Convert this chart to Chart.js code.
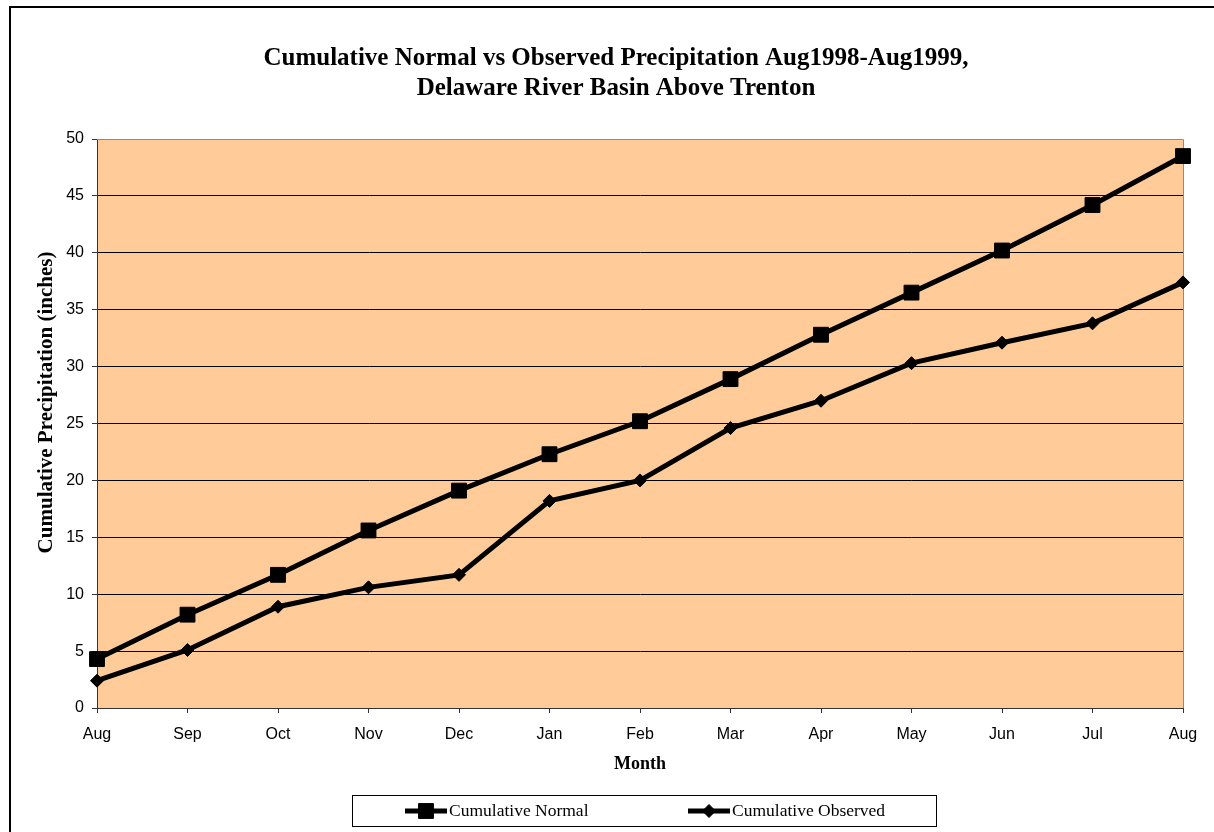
<!DOCTYPE html>
<html>
<head>
<meta charset="utf-8">
<script src="https://cdn.jsdelivr.net/npm/chart.js@4"></script>
<style>
  html, body { margin: 0; padding: 0; background: #fff; }
  #wrap { width: 1214px; height: 832px; }
</style>
</head>
<body>
<div id="wrap"><canvas id="myChart" width="1214" height="832"></canvas></div>
<script>
const months = ["Aug", "Sep", "Oct", "Nov", "Dec", "Jan", "Feb", "Mar", "Apr", "May", "Jun", "Jul", "Aug"];
const normal = [4.3, 8.2, 11.7, 15.6, 19.1, 22.3, 25.2, 28.9, 32.8, 36.5, 40.2, 44.2, 48.5];
const observed = [2.4, 5.1, 8.9, 10.6, 11.7, 18.2, 20.0, 24.6, 27.0, 30.3, 32.1, 33.8, 37.4];
const titleLines = ["Cumulative Normal vs Observed Precipitation Aug1998-Aug1999,", "Delaware River Basin Above Trenton"];

// plot background, grey top/right border and the outer frame
const plotArea = {
  id: "plotArea",
  beforeDraw(chart) {
    const { ctx, chartArea: a } = chart;
    ctx.save();
    ctx.fillStyle = "#fff";
    ctx.fillRect(0, 0, chart.width, chart.height);
    ctx.lineWidth = 2;
    ctx.strokeStyle = "#000";
    ctx.strokeRect(10, 7, 1400, 1000);
    ctx.fillStyle = "#FFCC99";
    ctx.fillRect(a.left, a.top, a.right - a.left, a.bottom - a.top);
    ctx.restore();
  },
  beforeDatasetsDraw(chart) {
    const { ctx, chartArea: a } = chart;
    ctx.save();
    ctx.strokeStyle = "#8c8c8c";
    ctx.lineWidth = 1;
    ctx.beginPath();
    ctx.moveTo(a.left, a.top + 0.5);
    ctx.lineTo(a.right + 0.5, a.top + 0.5);
    ctx.lineTo(a.right + 0.5, a.bottom);
    ctx.stroke();
    ctx.restore();
  }
};

// Excel style boxed legend
const boxLegend = {
  id: "boxLegend",
  afterDraw(chart, args, opts) {
    const { ctx } = chart;
    ctx.save();
    ctx.strokeStyle = "#000";
    ctx.lineWidth = 1;
    ctx.strokeRect(opts.x + 0.5, opts.y + 0.5, opts.w, opts.h);
    const cy = opts.y + opts.h / 2 + 0.5;
    chart.data.datasets.forEach((ds, i) => {
      const x0 = opts.x + opts.first + i * opts.step;
      ctx.strokeStyle = "#000";
      ctx.lineWidth = 5;
      ctx.beginPath();
      ctx.moveTo(x0, cy);
      ctx.lineTo(x0 + 42, cy);
      ctx.stroke();
      ctx.fillStyle = "#000";
      ctx.strokeStyle = "#000";
      ctx.lineWidth = 1;
      Chart.helpers.drawPoint(ctx, { pointStyle: ds.pointStyle, radius: ds.pointRadius, rotation: 0, borderWidth: 1 }, x0 + 21, cy);
      ctx.fillStyle = "#000";
      ctx.font = "17.5px 'Liberation Serif'";
      ctx.textBaseline = "middle";
      ctx.textAlign = "left";
      ctx.fillText(ds.label, x0 + 44, cy);
    });
    ctx.restore();
  }
};

const data = {
  labels: months,
  datasets: [
    {
      label: "Cumulative Normal",
      data: normal,
      borderColor: "#000",
      backgroundColor: "#000",
      borderWidth: 5,
      pointStyle: "rect",
      pointRadius: 10.5,
      pointBorderWidth: 1,
      tension: 0,
    },
    {
      label: "Cumulative Observed",
      data: observed,
      borderColor: "#000",
      backgroundColor: "#000",
      borderWidth: 5,
      pointStyle: "rectRot",
      pointRadius: 6.5,
      pointBorderWidth: 1,
      tension: 0,
    },
  ],
};

const options = {
  responsive: false,
  animation: false,
  // left padding is wider so the title centres where Excel put it
  layout: { padding: { left: 49, right: 31, top: 0, bottom: 0 } },
  plugins: {
    legend: { display: false },
    tooltip: { enabled: false },
    title: {
      display: true,
      text: titleLines,
      color: "#000",
      font: { family: "Liberation Serif", size: 25, weight: "bold", lineHeight: 1.2 },
      padding: { top: 44, bottom: 35 },
    },
    boxLegend: { x: 352, y: 795, w: 584, h: 31, first: 53, step: 283 },
  },
  scales: {
    x: {
      offset: false,
      afterFit: (scale) => { scale.height = 124; },
      grid: { drawOnChartArea: false, drawTicks: true, tickLength: 5, tickColor: "#333" },
      border: { color: "#333", width: 1 },
      ticks: { color: "#000", font: { family: "Liberation Sans", size: 16 }, padding: 12, maxRotation: 0, autoSkip: false },
      title: {
        display: true,
        text: "Month",
        color: "#000",
        font: { family: "Liberation Serif", size: 18, weight: "bold", lineHeight: 1.2 },
        padding: { top: 0, bottom: 57 },
      },
    },
    y: {
      min: 0,
      max: 50,
      afterFit: (scale) => { scale.width = 48; },
      grid: {
        color: (c) => (c.tick && c.tick.value === 50 ? "#8c8c8c" : "#000"),
        tickColor: "#333",
        tickLength: 5,
        lineWidth: 1,
      },
      border: { color: "#333", width: 1 },
      ticks: { stepSize: 5, color: "#000", font: { family: "Liberation Sans", size: 16 }, padding: 8 },
      title: {
        display: true,
        text: "        Cumulative Precipitation (inches)",
        color: "#000",
        font: { family: "Liberation Serif", size: 21, weight: "bold", lineHeight: 1.2 },
        padding: { top: -15, bottom: 0 },
      },
    },
  },
};

const config = {
  type: "line",
  data: data,
  options,
  plugins: [plotArea, boxLegend],
};

const myChart = new Chart(document.getElementById("myChart"), config);
</script>
</body>
</html>
